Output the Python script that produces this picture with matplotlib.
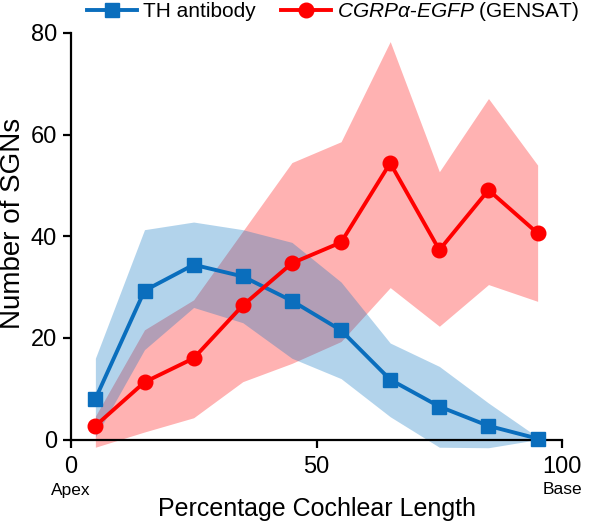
import numpy as np
import matplotlib
matplotlib.use('Agg')
import matplotlib.pyplot as plt
import matplotlib.transforms as mtransforms

plt.rcParams['font.family'] = ['Liberation Sans', 'DejaVu Sans']
plt.rcParams['mathtext.fontset'] = 'custom'
plt.rcParams['mathtext.rm'] = 'Liberation Sans'
plt.rcParams['mathtext.it'] = 'Liberation Sans:italic'

# percentage cochlear length (bin centres)
position = [5, 15, 25, 35, 45, 55, 65, 75, 85, 95]

# TH antibody
th_mean = [8.0, 29.3, 34.4, 32.1, 27.3, 21.5, 11.8, 6.5, 2.7, 0.2]
th_upper = [16.0, 41.3, 42.8, 41.3, 38.8, 31.0, 19.0, 14.4, 7.2, 0.5]
th_lower = [0.5, 17.7, 26.0, 23.0, 16.0, 12.0, 4.5, -1.5, -1.6, 0.0]

# CGRPa-EGFP (GENSAT)
cgrp_mean = [2.7, 11.3, 16.0, 26.4, 34.7, 38.8, 54.4, 37.3, 49.1, 40.6]
cgrp_upper = [4.6, 21.6, 27.5, 41.0, 54.5, 58.6, 78.3, 52.7, 67.1, 54.0]
cgrp_lower = [-1.5, 1.5, 4.3, 11.4, 15.0, 19.3, 29.9, 22.3, 30.5, 27.2]

blue = '#0A6EBD'
red = '#FF0000'

fig = plt.figure(figsize=(6, 5.23), dpi=100)
ax = fig.add_axes([0.118, 0.14, 0.819, 0.797])

ax.fill_between(position, cgrp_lower, cgrp_upper, color=red, alpha=0.3, lw=0)
ax.fill_between(position, th_lower, th_upper, color='#0070C0', alpha=0.3, lw=0)

ax.plot(position, th_mean, color=blue, lw=2.8, marker='s', ms=9.5,
        label='TH antibody', clip_on=False, zorder=4)
ax.plot(position, cgrp_mean, color=red, lw=2.8, marker='o', ms=10.5,
        label=r'$\mathit{CGRP\alpha}$-$\mathit{EGFP}$ (GENSAT)', clip_on=False, zorder=5)

ax.set_xlim(0, 100)
ax.set_ylim(-2, 80)
ax.spines['bottom'].set_position(('data', 0))
ax.spines['left'].set_bounds(0, 80)
ax.spines['top'].set_visible(False)
ax.spines['right'].set_visible(False)
for s in ['left', 'bottom']:
    ax.spines[s].set_linewidth(1.6)

ax.set_xticks([0, 50, 100])
ax.set_yticks([0, 20, 40, 60, 80])
ax.tick_params(labelsize=17, width=1.6, length=6, direction='out', pad=4)
ax.tick_params(axis='x', pad=6)

x_fig = mtransforms.blended_transform_factory(ax.transData, fig.transFigure)
ax.set_ylabel('Number of SGNs', fontsize=20)
ax.yaxis.set_label_coords(26 / 600, 42.5,
                          transform=mtransforms.blended_transform_factory(fig.transFigure, ax.transData))
ax.set_xlabel('Percentage Cochlear Length', fontsize=18)
ax.xaxis.set_label_coords(50, 1 - 497 / 523, transform=x_fig)

ax.text(0, 1 - 490 / 523, 'Apex', transform=x_fig, ha='center', va='center', fontsize=12.5)
ax.text(100, 1 - 490 / 523, 'Base', transform=x_fig, ha='center', va='center', fontsize=12.5)

fig.legend(loc='upper center', bbox_to_anchor=(0.555, 1.035), ncol=2, frameon=False,
           fontsize=15, handlelength=2.4, handletextpad=0.3, columnspacing=1.2)

fig.savefig('out.png', dpi=100)
